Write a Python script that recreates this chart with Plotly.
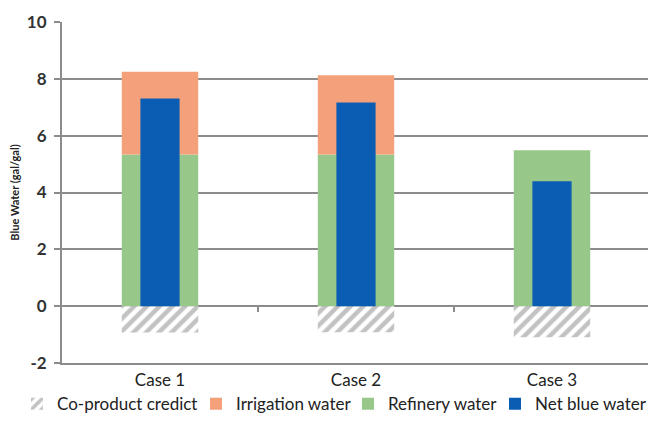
import plotly.graph_objects as go

cases = ["Case 1", "Case 2", "Case 3"]
coproduct_credit = [-0.93, -0.92, -1.09]
irrigation_water = [2.91, 2.79, 0.0]
refinery_water = [5.34, 5.34, 5.49]
net_blue_water = [7.31, 7.17, 4.40]
y_ticks = [-2, 0, 2, 4, 6, 8, 10]
y_tick_labels = ["-2", "0", "2", "4", "6", "8", "10"]

wide = 0.39
narrow = 0.2
font_family = "Lato, 'Open Sans', sans-serif"

fig = go.Figure()
fig.add_trace(go.Bar(x=cases, y=refinery_water, base=[0, 0, 0], width=wide,
                     name="Refinery water", marker=dict(color="#98C889", line_width=0),
                     legend="legend3"))
fig.add_trace(go.Bar(x=cases, y=irrigation_water, base=refinery_water, width=wide,
                     name="Irrigation water", marker=dict(color="#F4A07A", line_width=0),
                     legend="legend2"))
fig.add_trace(go.Bar(x=cases, y=coproduct_credit, base=[0, 0, 0], width=wide,
                     name="Co-product credict",
                     marker=dict(color="white", line_width=0,
                                 pattern=dict(shape="/", fgcolor="#858585", bgcolor="white",
                                              size=9, solidity=0.5)),
                     legend="legend"))
fig.add_trace(go.Bar(x=cases, y=net_blue_water, base=[0, 0, 0], width=narrow,
                     name="Net blue water", marker=dict(color="#0B5DB3", line_width=0),
                     legend="legend4"))
# invisible trace to carry the zero-line axis
fig.add_trace(go.Scatter(x=cases, y=[0, 0, 0], xaxis="x2", mode="markers",
                         marker=dict(opacity=0), showlegend=False, hoverinfo="skip"))

legend_common = dict(orientation="h", xref="container", xanchor="left",
                     yref="container", y=0.072, yanchor="middle",
                     font=dict(size=17, color="#222"), itemwidth=30,
                     bgcolor="rgba(0,0,0,0)")

fig.update_layout(
    width=656, height=427,
    margin=dict(l=54, r=14, t=14, b=72, autoexpand=False),
    barmode="overlay",
    plot_bgcolor="white", paper_bgcolor="white",
    font=dict(family=font_family, color="#222", size=14),
    showlegend=True,
    legend=dict(legend_common, x=9 / 656),
    legend2=dict(legend_common, x=188 / 656),
    legend3=dict(legend_common, x=340 / 656),
    legend4=dict(legend_common, x=487 / 656),
    xaxis=dict(range=[-0.5, 2.5], showgrid=False, showline=True, linecolor="#8c8c8c",
               linewidth=2, ticks="", ticklabelstandoff=1,
               tickfont=dict(size=17, color="#222")),
    xaxis2=dict(overlaying="x", anchor="free", position=1/6, range=[-0.5, 2.5],
                tickmode="array", tickvals=[0.5, 1.5, 2.5], ticks="outside", ticklen=5,
                tickwidth=2, tickcolor="#8c8c8c", showticklabels=False, showgrid=False,
                showline=False, zeroline=False),
    yaxis=dict(range=[-2, 10], tickmode="array", tickvals=y_ticks, ticktext=y_tick_labels,
               showgrid=True, gridcolor="#8c8c8c", gridwidth=2,
               zeroline=False, showline=True, linecolor="#8c8c8c", linewidth=2,
               ticks="outside", ticklen=6, tickwidth=2, tickcolor="#8c8c8c",
               ticklabelstandoff=4,
               tickfont=dict(size=17, color="#333", weight="bold"),
               title=dict(text="<b>Blue Water (gal/gal)</b>", font=dict(size=11, color="#222"),
                          standoff=10)),
)

fig.write_html("out.html")
